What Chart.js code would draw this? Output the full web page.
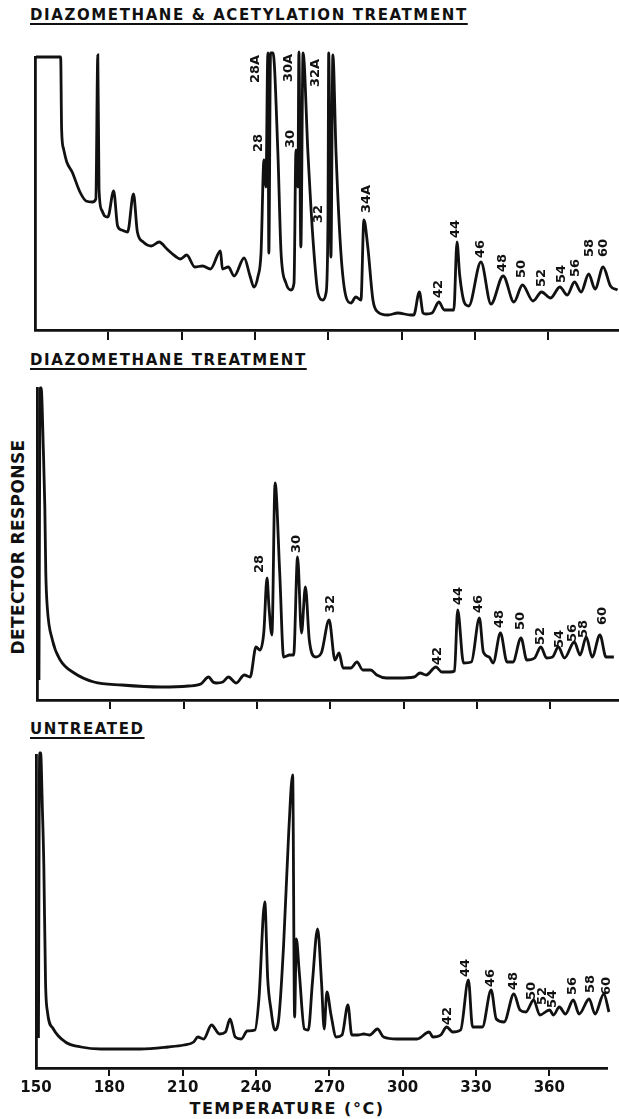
<!DOCTYPE html>
<html>
<head>
<meta charset="utf-8">
<script src="https://cdn.jsdelivr.net/npm/chart.js@4.4.1/dist/chart.umd.min.js"></script>
<style>
  body { margin: 0; background: #fff; }
  #page { position: relative; width: 619px; height: 1119px; overflow: hidden;
          font-family: "DejaVu Sans", sans-serif; font-weight: bold; color: #111; }
  canvas { position: absolute; left: 0; }
  .ttl { position: absolute; left: 30px; font-size: 15px; line-height: 1; letter-spacing: 1.6px;
         white-space: nowrap; text-decoration: underline; text-decoration-thickness: 2px;
         text-underline-offset: 3px; z-index: 2; }
  #ylab { position: absolute; left: -97px; top: 537px; width: 230px; height: 20px; line-height: 20px;
          text-align: center; font-size: 17px; letter-spacing: 0.4px; transform: rotate(-90deg); }
  #xlab { position: absolute; left: 137px; top: 1101px; width: 300px; text-align: center;
          font-size: 16px; line-height: 1; letter-spacing: 1.5px; }
</style>
</head>
<body>
<div id="page">
  <div class="ttl" style="top:8px">DIAZOMETHANE &amp; ACETYLATION TREATMENT</div>
  <div class="ttl" style="top:353px">DIAZOMETHANE TREATMENT</div>
  <div class="ttl" style="top:722px">UNTREATED</div>
  <div id="ylab">DETECTOR RESPONSE</div>
  <div id="xlab">TEMPERATURE (°C)</div>
  <canvas id="acet" width="619" height="305" style="top:40px"></canvas>
  <canvas id="diazo" width="619" height="340" style="top:375px"></canvas>
  <canvas id="raw" width="619" height="379" style="top:740px"></canvas>
</div>
<script>
const ink = '#111';
const tickTemps = [150, 180, 210, 240, 270, 300, 330, 360];

// diazomethane + acetylation: temperature (°C) and detector response
const acetT = [150.4, 160.5, 160.9, 161.7, 163.0, 165.2, 168.4, 170.9, 173.5, 174.9, 175.7, 176.2, 177.3, 178.5,
  179.8, 182.2, 183.8, 185.5, 187.9, 190.3, 191.9, 194.3, 197.6, 200.8, 204.0, 207.3, 209.5, 212.1, 215.4,
  218.6, 221.8, 225.9, 226.7, 229.1, 231.5, 235.6, 238.0, 239.6, 241.2, 242.5, 243.7, 244.5, 245.3, 245.7,
  246.4, 247.4, 249.4, 250.7, 252.7, 254.7, 256.0, 256.8, 257.6, 258.0, 258.8, 259.7, 261.7, 263.7, 265.8,
  267.8, 269.1, 269.9, 270.2, 271.1, 271.9, 273.2, 275.2, 277.3, 279.3, 281.3, 283.4, 284.6, 286.2, 288.3,
  290.3, 294.4, 298.5, 303.8, 305.0, 307.3, 308.8, 310.0, 312.5, 315.3, 317.5, 319.4, 321.4, 322.7, 323.8,
  325.8, 327.5, 332.5, 336.6, 341.6, 346.0, 349.5, 353.8, 357.3, 361.0, 364.8, 367.8, 370.8, 373.5, 376.6,
  379.2, 382.5, 385.5, 388.4];
const acetR = [273, 273, 200, 181, 168, 158, 138, 129, 128, 131, 275, 141, 120, 114,
  113, 139, 104, 100, 98, 136, 98, 88, 84, 88, 81, 74, 71, 75, 63,
  64, 61, 79, 61, 63, 54, 72, 54, 43, 53, 77, 170, 143, 277, 77,
  277, 277, 177, 77, 47, 40, 47, 180, 143, 278, 83, 277, 177, 93, 37,
  30, 37, 110, 277, 73, 275, 177, 77, 33, 27, 33, 30, 110, 83, 30,
  18, 15, 17, 15, 15, 38, 17, 16, 17, 28, 20, 20, 20, 88, 55,
  27, 24, 68, 26, 54, 28, 45, 29, 38, 32, 43, 35, 48, 38, 56,
  41, 63, 44, 40];
const acetTags = ['28A', '28', '30A', '30', '32A', '32', '34A', '42', '44', '46', '48', '50', '52', '54', '56', '58', '60'];
const acetTagT = [240.4, 241.7, 253.9, 254.7, 265.0, 266.2, 285.8, 315.3, 322.3, 332.5, 341.5, 349.3, 357.4, 365.6, 371.4, 377.1, 382.8];
const acetTagR = [247, 178, 248, 182, 243, 107, 117, 32, 92, 72, 58, 52, 43, 47, 53, 73, 73];

// diazomethane only
const diazoT = [150.8, 151.3, 151.7, 152.6, 153.2, 153.6, 154.2, 156.3, 159.5, 165.2, 173.3, 184.6, 200.8, 212.0, 217.0,
  220.2, 222.0, 223.4, 226.0, 228.3, 231.5, 234.8, 237.2, 239.6, 241.2, 242.8, 244.1, 244.9, 246.1, 247.4,
  249.3, 250.9, 253.4, 255.0, 256.6, 258.2, 259.8, 261.4, 263.9, 266.3, 269.5, 271.9, 273.6, 275.2, 278.4,
  280.9, 283.3, 286.5, 289.0, 293.0, 297.8, 304.3, 306.7, 309.2, 313.2, 315.6, 318.9, 320.8, 322.1, 324.5,
  327.7, 331.0, 332.6, 335.0, 336.6, 339.6, 342.3, 344.7, 348.0, 350.4, 353.6, 356.1, 358.5, 360.9, 363.3,
  365.8, 369.8, 372.2, 374.7, 377.1, 380.3, 382.8, 386.0];
const diazoR = [20, 312, 312, 250, 193, 127, 93, 60, 40, 27, 18, 15, 13, 14, 16,
  23, 18, 17, 18, 23, 17, 25, 23, 53, 50, 68, 122, 93, 65, 217,
  127, 43, 45, 45, 143, 67, 113, 60, 43, 47, 80, 40, 47, 32, 32,
  38, 30, 30, 25, 22, 22, 23, 27, 25, 33, 28, 28, 29, 90, 37,
  38, 82, 48, 43, 37, 67, 38, 38, 62, 40, 42, 53, 42, 43, 53,
  42, 58, 45, 63, 43, 65, 43, 43];
const diazoTags = ['28', '30', '32', '42', '44', '46', '48', '50', '52', '54', '56', '58', '60'];
const diazoTagT = [241.2, 256.4, 270.3, 313.7, 322.3, 330.8, 339.4, 348.0, 356.2, 364.0, 369.3, 373.8, 381.2];
const diazoTagR = [127, 147, 87, 35, 95, 87, 72, 70, 55, 52, 58, 62, 75];

// untreated extract
const rawT = [151.0, 151.5, 151.9, 152.6, 153.2, 153.9, 154.7, 157.1, 162.0, 168.4, 176.5, 192.7, 204.0, 210.5, 214.5,
  216.2, 218.6, 221.8, 225.1, 227.5, 229.4, 231.5, 234.0, 236.4, 239.6, 241.2, 243.6, 244.8, 246.1, 247.7,
  249.3, 251.3, 253.4, 255.0, 255.8, 256.5, 257.7, 259.8, 261.4, 263.1, 265.2, 266.8, 267.9, 269.0, 270.7,
  272.8, 275.2, 277.6, 279.2, 281.7, 284.1, 286.5, 289.7, 292.2, 297.8, 305.9, 310.8, 312.4, 315.6, 318.0,
  320.5, 323.7, 326.9, 328.6, 332.6, 336.2, 338.3, 341.5, 345.5, 348.0, 350.4, 353.6, 356.1, 360.1, 361.7,
  364.1, 366.6, 369.8, 372.2, 376.3, 378.7, 382.3, 384.4];
const rawR = [30, 315, 315, 260, 203, 86, 56, 39, 26, 21, 19, 19, 21, 23, 26,
  31, 29, 43, 34, 36, 49, 31, 29, 37, 38, 69, 166, 89, 59, 38,
  49, 123, 236, 293, 51, 129, 96, 39, 38, 86, 139, 86, 39, 76, 53,
  31, 33, 63, 33, 33, 34, 33, 39, 31, 29, 29, 36, 31, 33, 41,
  36, 38, 88, 41, 41, 78, 49, 46, 74, 58, 56, 68, 53, 58, 53,
  61, 54, 68, 54, 69, 54, 74, 56];
const rawTags = ['42', '44', '46', '48', '50', '52', '54', '56', '58', '60'];
const rawTagT = [318.2, 325.9, 335.8, 345.6, 352.9, 357.4, 361.5, 369.7, 377.1, 383.6];
const rawTagR = [43, 91, 81, 78, 68, 63, 60, 73, 75, 73];

const pts = (t, r) => t.map((x, i) => ({ x, y: r[i] }));

// vertical carbon-number tags written bottom-to-top above the peaks
function tagPlugin(id, names, temps, levels) {
  return {
    id,
    afterDatasetsDraw(chart) {
      const { ctx, scales: { x, y } } = chart;
      ctx.save();
      ctx.font = 'bold 13px "DejaVu Sans"';
      ctx.fillStyle = ink;
      ctx.textAlign = 'left';
      ctx.textBaseline = 'middle';
      names.forEach((n, i) => {
        ctx.save();
        ctx.translate(x.getPixelForValue(temps[i]), y.getPixelForValue(levels[i]));
        ctx.rotate(-Math.PI / 2);
        ctx.fillText(n, 0, 0);
        ctx.restore();
      });
      ctx.restore();
    }
  };
}

function panel(id, temps, resp, tags, box) {
  new Chart(document.getElementById(id), {
    type: 'line',
    data: { datasets: [{
      data: pts(temps, resp), borderColor: ink, borderWidth: 2.8, pointRadius: 0,
      cubicInterpolationMode: 'monotone', fill: false, clip: false
    }] },
    options: {
      responsive: false, animation: false, devicePixelRatio: 1,
      layout: { padding: { left: box.left, right: box.right, top: box.top, bottom: 0 } },
      plugins: { legend: { display: false }, tooltip: { enabled: false } },
      scales: {
        x: {
          type: 'linear', min: 150, max: box.tMax,
          afterBuildTicks: s => { s.ticks = tickTemps.map(v => ({ value: v })); },
          afterFit: s => { s.height = box.axisH; },
          grid: { drawOnChartArea: false, tickLength: box.tickLen, lineWidth: 2,
                  color: c => (c.tick && c.tick.value === 150) ? 'rgba(0,0,0,0)' : ink },
          border: { color: ink, width: 2.8 },
          ticks: { display: box.labels, color: ink, padding: 3, maxRotation: 0, autoSkip: false,
                   font: { family: 'DejaVu Sans', size: 15, weight: 'bold' } }
        },
        y: {
          min: 0, max: box.rMax,
          afterFit: s => { s.width = 0; },
          grid: { display: false }, ticks: { display: false },
          border: { color: ink, width: 2.8 }
        }
      }
    },
    plugins: [tagPlugin(id + 'Tags', tags[0], tags[1], tags[2])]
  });
}

panel('acet', acetT, acetR, [acetTags, acetTagT, acetTagR],
  { left: 35, right: 0, top: 17, axisH: 15, tickLen: 10, rMax: 273, tMax: 389.0, labels: false });
panel('diazo', diazoT, diazoR, [diazoTags, diazoTagT, diazoTagR],
  { left: 37, right: 0, top: 13, axisH: 15, tickLen: 9, rMax: 312, tMax: 388.1, labels: false });
panel('raw', rawT, rawR, [rawTags, rawTagT, rawTagR],
  { left: 36, right: 12, top: 15, axisH: 51, tickLen: 8, rMax: 313, tMax: 383.6, labels: true });
</script>
</body>
</html>
